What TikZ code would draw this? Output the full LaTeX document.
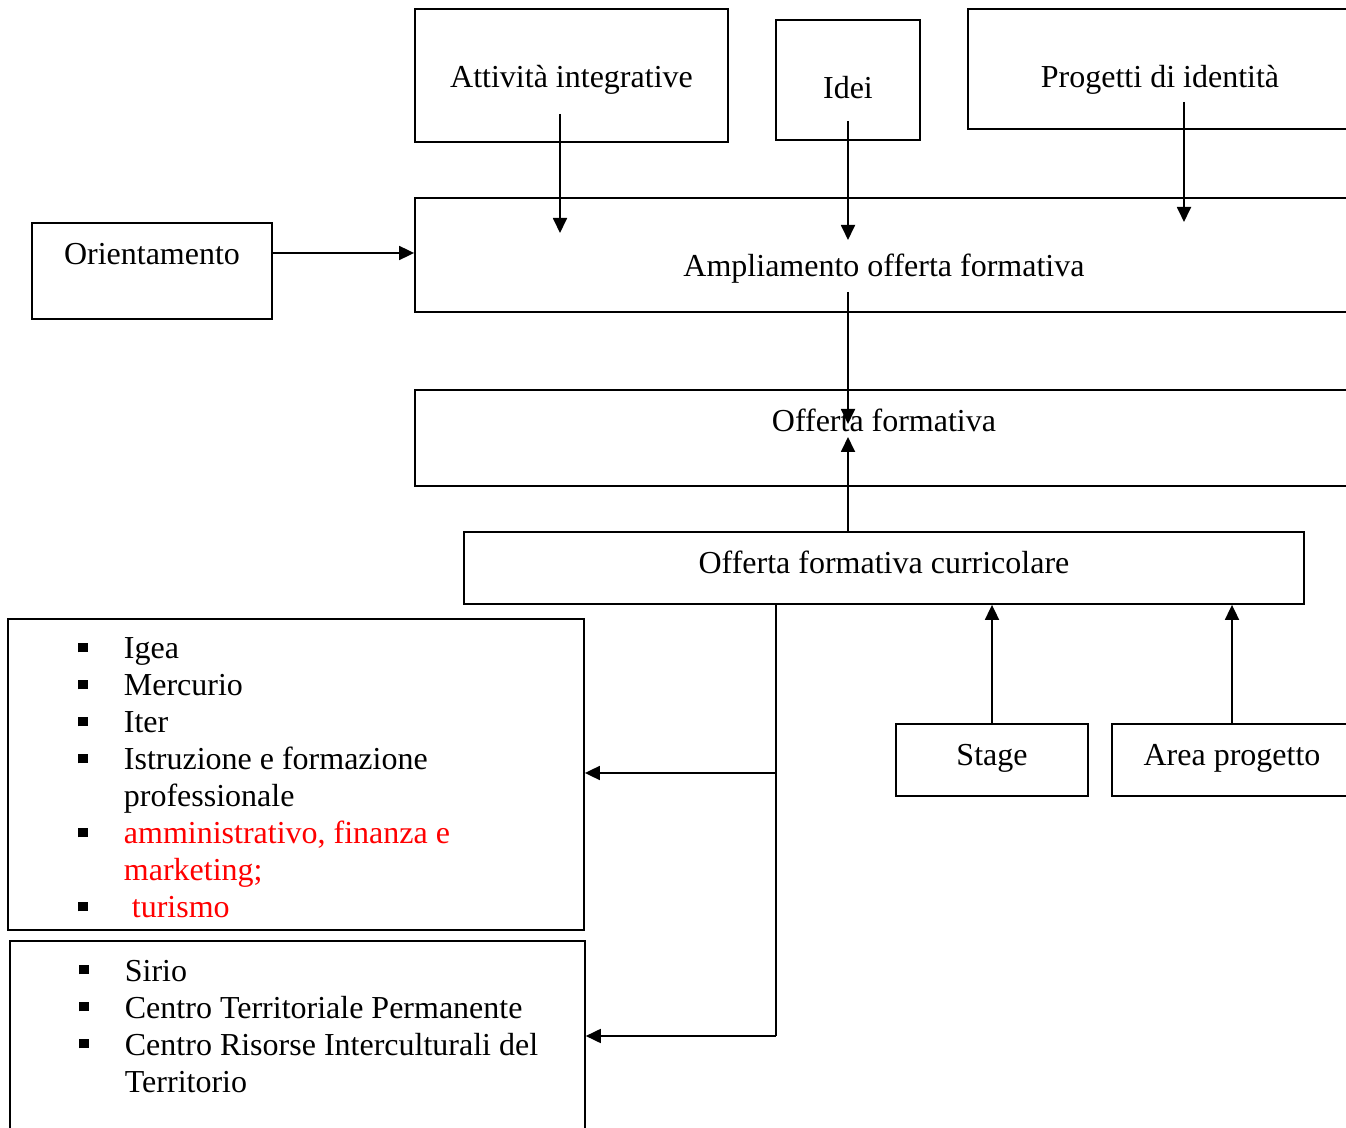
\documentclass[tikz,border=0pt]{standalone}
\usepackage{fontspec}
\setmainfont{Liberation Serif}
\usetikzlibrary{arrows.meta, positioning}

\newcommand{\sq}{\makebox[22.75pt][l]{\rule[3.3pt]{4.6pt}{4.6pt}}}
\newcommand{\ind}{\hspace*{22.75pt}}

\begin{document}
\begin{tikzpicture}[x=0.5pt, y=-0.5pt, >={Triangle[length=7.5pt, width=7pt]}, line width=0.9pt]
        % Stili per i riquadri e gli elenchi
        \tikzstyle{box} = [draw, rectangle, inner sep=0pt, text height=12pt, text depth=4pt, font=\fontsize{16}{18.5}\selectfont]
        \tikzstyle{listbox} = [draw, rectangle, inner sep=0pt]
        \tikzstyle{listtext} = [inner sep=0pt, align=left, anchor=north west, font=\fontsize{16}{18.5}\selectfont]

        \useasboundingbox (0,0) rectangle (1346,1128);
        \clip (0,0) rectangle (1346,1128);

        % Nodes
        \node [box, minimum width=156.5pt, minimum height=66.5pt, text height=16pt] (attivita) at (571.5,75.5) {Attività integrative};
        \node [box, minimum width=72pt, minimum height=60pt, text height=23pt] (idei) at (848,80) {Idei};
        \node [box, minimum width=192pt, minimum height=60pt, text height=23pt] (progetti) at (1160,69) {Progetti di identità};
        \node [box, minimum width=469pt, minimum height=57pt, text height=26pt] (ampliamento) at (884,255) {Ampliamento offerta formativa};
        \node [box, minimum width=120pt, minimum height=48pt, text depth=18pt] (orientamento) at (152,271) {Orientamento};
        \node [box, on grid, below=91.5pt of ampliamento, minimum width=469pt, minimum height=48pt, text depth=18pt] (offerta) {Offerta formativa};
        \node [box, on grid, below=65pt of offerta, minimum width=420pt, minimum height=36pt, text depth=6pt] (curricolare) {Offerta formativa curricolare};
        \node [box, on grid, below right=96pt and 54pt of curricolare, minimum width=96pt, minimum height=36pt, text depth=6pt] (stage) {Stage};
        \node [box, on grid, right=120pt of stage, minimum width=120pt, minimum height=36pt, text depth=6pt] (areaProgetto) {Area progetto};
        \node [listbox, minimum width=288pt, minimum height=155.5pt] (indirizzi) at (296,774.5) {};
        \node [listbox, anchor=north west, minimum width=287.5pt, minimum height=130pt] (corsi) at (9,940) {};
        \node [listtext] (indirizziList) at (77.5,637) {\sq Igea\\
                \sq Mercurio\\
                \sq Iter\\
                \sq Istruzione e formazione\\
                \ind professionale\\
                \sq\textcolor{red}{amministrativo, finanza e}\\
                \ind\textcolor{red}{marketing;}\\
                \sq\textcolor{red}{\ turismo}};
        \node [listtext] (corsiList) at (78.5,959) {\sq Sirio\\
                \sq Centro Territoriale Permanente\\
                \sq Centro Risorse Interculturali del\\
                \ind Territorio};

        \coordinate (attivitaOut) at (560,114);
        \coordinate (attivitaIn) at (560,233);
        \coordinate (ideiOut) at (848,121);
        \coordinate (ideiIn) at (848,240);
        \coordinate (progettiOut) at (1184,102);
        \coordinate (progettiIn) at (1184,222);
        \coordinate (ampliamentoOut) at (848,292);
        \coordinate (offertaIn) at (848,424);
        \coordinate (offertaUp) at (848,437);
        \coordinate (elbowIndirizzi) at (776,773);
        \coordinate (elbowCorsi) at (776,1036);

        % Lines
        \draw [->] ([yshift=9pt]orientamento.east) -- ([yshift=9pt]orientamento.east -| ampliamento.west);
        \draw [->] (attivitaOut) -- (attivitaIn);
        \draw [->] (ideiOut) -- (ideiIn);
        \draw [->] (progettiOut) -- (progettiIn);
        \draw [->] (ampliamentoOut) -- (offertaIn);
        \draw [->] ([xshift=-18pt]curricolare.north) -- (offertaUp);
        \draw [->] (stage.north) -- (stage.north |- curricolare.south);
        \draw [->] (areaProgetto.north) -- (areaProgetto.north |- curricolare.south);
        \draw [-] ([xshift=-54pt]curricolare.south) -- (elbowCorsi);
        \draw [->] (elbowIndirizzi) -- (elbowIndirizzi -| indirizzi.east);
        \draw [->] (elbowCorsi) -- (elbowCorsi -| corsi.east);

      \end{tikzpicture}
\end{document}
